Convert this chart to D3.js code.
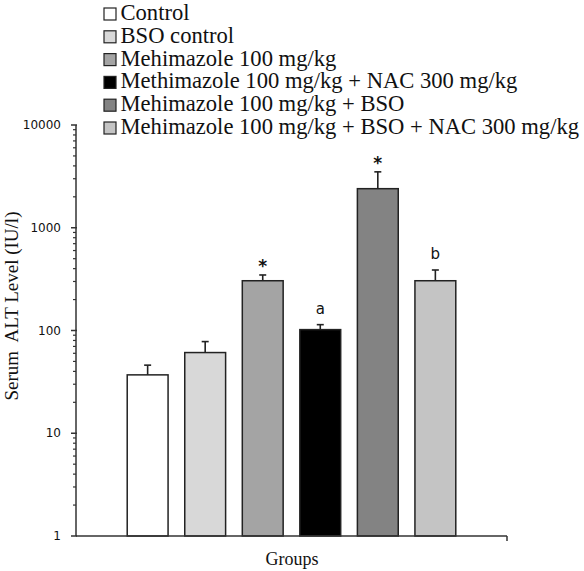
<!DOCTYPE html>
<html><head><meta charset="utf-8">
<script src="https://cdn.jsdelivr.net/npm/d3@7"></script>
<style>body{margin:0;background:#fff}</style>
</head><body>
<svg id="c" width="584" height="571"></svg>
<script>
const groups = ["Control","BSO control","Mehimazole 100 mg/kg","Methimazole 100 mg/kg + NAC 300 mg/kg","Mehimazole 100 mg/kg + BSO","Mehimazole 100 mg/kg + BSO + NAC 300 mg/kg"];
const means = [37, 61, 305, 102, 2400, 305];
const errors = [9, 17, 42, 12, 1100, 83];
const marks = ["", "", "*", "a", "*", "b"];
const colors = ["#ffffff", "#d8d8d8", "#a4a4a4", "#000000", "#838383", "#c4c4c4"];
const majorTicks = [1, 10, 100, 1000, 10000];

const svg = d3.select("#c");
const x0 = 76, x1 = 507, yTop = 125, yBot = 536;
const x = d3.scaleBand().domain(groups).range([x0, x1]).paddingInner(0.29).paddingOuter(0.89);
const y = d3.scaleLog().domain([1, 10000]).range([yBot, yTop]);

// bars
svg.selectAll("rect.bar").data(groups).enter().append("rect")
  .attr("x", d => x(d)).attr("width", x.bandwidth())
  .attr("y", (d,i) => y(means[i])).attr("height", (d,i) => yBot - y(means[i]))
  .attr("fill", (d,i) => colors[i]).attr("stroke", "#222").attr("stroke-width", 1.5);

// error bars
groups.forEach((g,i) => {
  const cx = x(g) + x.bandwidth()/2;
  const t = y(means[i] + errors[i]);
  svg.append("line").attr("x1", cx).attr("x2", cx).attr("y1", y(means[i])).attr("y2", t)
    .attr("stroke", "#222").attr("stroke-width", 1.6);
  svg.append("line").attr("x1", cx-3.5).attr("x2", cx+3.5).attr("y1", t).attr("y2", t)
    .attr("stroke", "#222").attr("stroke-width", 1.6);
  if (marks[i]) {
    svg.append("text").attr("x", cx).attr("y", marks[i] === "*" ? t - 3 : t - 11)
      .attr("text-anchor", "middle").attr("font-family", "DejaVu Sans")
      .attr("font-size", marks[i] === "*" ? 17 : 15)
      .attr("font-weight", marks[i] === "*" ? "bold" : "normal")
      .attr("fill", "#111").text(marks[i]);
  }
});

// y axis
const yAxis = svg.append("g");
yAxis.append("line").attr("x1", x0).attr("x2", x0).attr("y1", yTop).attr("y2", yBot)
  .attr("stroke", "#333").attr("stroke-width", 1.5);
const minor = [];
for (let k = 0; k < 4; k++) for (let m = 2; m <= 9; m++) minor.push(m * Math.pow(10, k));
yAxis.selectAll("line.mi").data(minor).enter().append("line")
  .attr("x1", x0 - 3).attr("x2", x0).attr("y1", d => y(d)).attr("y2", d => y(d))
  .attr("stroke", "#333").attr("stroke-width", 1.2);
yAxis.selectAll("line.ma").data(majorTicks).enter().append("line")
  .attr("x1", x0 - 5).attr("x2", x0 + 1).attr("y1", d => y(d)).attr("y2", d => y(d))
  .attr("stroke", "#333").attr("stroke-width", 1.5);
yAxis.selectAll("text").data(majorTicks).enter().append("text")
  .attr("x", 61).attr("y", d => y(d)).attr("dy", "0.35em").attr("text-anchor", "end")
  .attr("font-family", "DejaVu Sans").attr("font-size", 12).attr("fill", "#111").text(d => d);

// x axis
svg.append("line").attr("x1", x0).attr("x2", x1).attr("y1", yBot).attr("y2", yBot)
  .attr("stroke", "#333").attr("stroke-width", 1.5);
svg.append("line").attr("x1", x1).attr("x2", x1).attr("y1", yBot).attr("y2", yBot + 5)
  .attr("stroke", "#333").attr("stroke-width", 1.5);

// axis titles
svg.append("text").attr("x", 292).attr("y", 565).attr("text-anchor", "middle")
  .attr("font-family", "Liberation Serif").attr("font-size", 18).attr("fill", "#111").text("Groups");
svg.append("text").attr("transform", "translate(18,306) rotate(-90)").attr("text-anchor", "middle")
  .attr("font-family", "Liberation Serif").attr("font-size", 19).attr("fill", "#111")
  .style("white-space", "pre").text("Serum  ALT Level (IU/l)");

// legend
const lg = svg.append("g");
groups.forEach((g,i) => {
  const by = 20 + i * 22.8;
  lg.append("rect").attr("x", 104).attr("y", by - 12).attr("width", 12).attr("height", 12)
    .attr("fill", colors[i]).attr("stroke", "#222").attr("stroke-width", 1.2);
  lg.append("text").attr("x", 120.5).attr("y", by).attr("font-family", "Liberation Serif")
    .attr("font-size", 22.6).attr("fill", "#111").text(g);
});
</script>
</body></html>
